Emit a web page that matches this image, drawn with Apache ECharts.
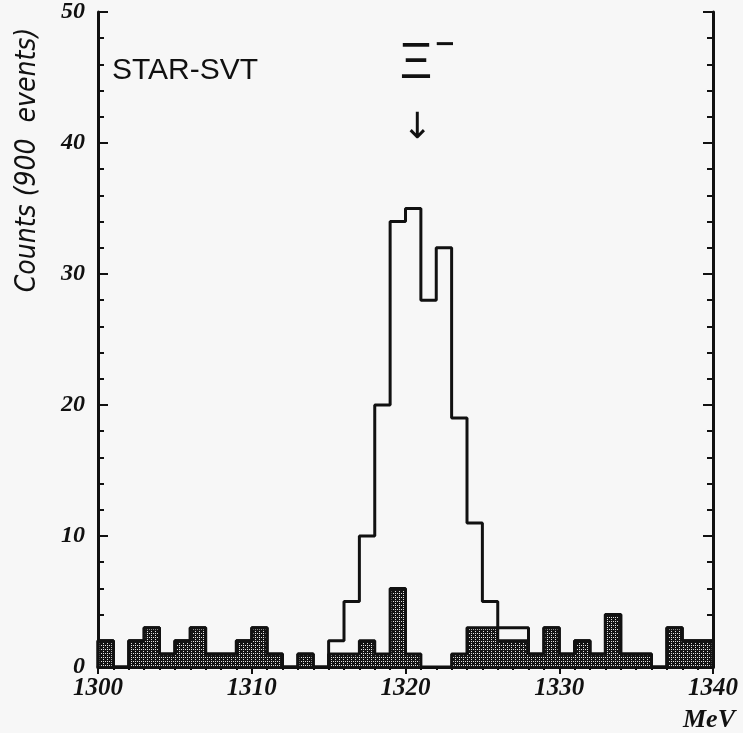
<!DOCTYPE html>
<html>
<head>
<meta charset="utf-8">
<script src="https://cdn.jsdelivr.net/npm/echarts@6/dist/echarts.min.js"></script>
<style>
  html, body { margin: 0; padding: 0; background: #f7f7f7; }
  #chart { width: 743px; height: 733px; }
</style>
</head>
<body>
<div id="chart"></div>
<script>
// Bin lower edges (MeV), 1 MeV bins
const binLow = [1300,1301,1302,1303,1304,1305,1306,1307,1308,1309,
                1310,1311,1312,1313,1314,1315,1316,1317,1318,1319,
                1320,1321,1322,1323,1324,1325,1326,1327,1328,1329,
                1330,1331,1332,1333,1334,1335,1336,1337,1338,1339];
const binWidth = 1;
// Background (shaded) counts per bin
const background = [2,0,2,3,1,2,3,1,1,2,
                    3,1,0,1,0,1,1,2,1,6,
                    1,0,0,1,3,3,2,2,1,3,
                    1,2,1,4,1,1,0,3,2,2];
// Total (outline) counts per bin
const total = [2,0,2,3,1,2,3,1,1,2,
               3,1,0,1,0,2,5,10,20,34,
               35,28,32,19,11,5,3,3,1,3,
               1,2,1,4,1,1,0,3,2,2];
const xTicks = [1300, 1310, 1320, 1330, 1340];
const yTicks = [0, 10, 20, 30, 40, 50];

function stepPoints(vals) {
  const pts = [[binLow[0], 0]];
  for (let i = 0; i < binLow.length; i++) pts.push([binLow[i], vals[i]]);
  const last = binLow[binLow.length - 1] + binWidth;
  pts.push([last, vals[vals.length - 1]]);
  pts.push([last, 0]);
  return pts;
}

function makePattern() {
  const c = document.createElement('canvas');
  c.width = 4; c.height = 4;
  const g = c.getContext('2d');
  g.fillStyle = '#141414';
  g.fillRect(0, 0, 4, 4);
  g.fillStyle = '#e0e0e0';
  g.fillRect(1, 1, 1, 1);
  g.fillRect(3, 3, 1, 1);
  g.fillRect(3, 1, 1, 1);
  return c;
}

const serifLbl = { fontFamily: 'Liberation Serif', fontWeight: 'bold', fontStyle: 'italic', color: '#111' };
const chart = echarts.init(document.getElementById('chart'), null, { renderer: 'canvas' });

const axisLineStyle = { color: '#111', width: 3 };
chart.setOption({
  backgroundColor: '#f7f7f7',
  animation: false,
  grid: { left: 98, right: 30, top: 12, bottom: 66 },
  xAxis: [
    {
      type: 'value', min: xTicks[0], max: xTicks[xTicks.length - 1], interval: 10,
      axisLine: { show: true, lineStyle: axisLineStyle },
      axisTick: { show: true, inside: true, length: 8, lineStyle: { color: '#111', width: 2 } },
      axisLabel: Object.assign({ fontSize: 25, margin: 9, formatter: v => String(v) }, serifLbl),
      splitLine: { show: false }
    },
    {
      type: 'value', position: 'top', min: xTicks[0], max: xTicks[xTicks.length - 1], interval: 10,
      axisLine: { show: true, lineStyle: axisLineStyle },
      axisTick: { show: true, inside: true, length: 7, lineStyle: { color: '#111', width: 2 } },
      minorTick: { show: true, splitNumber: 10, length: 3, lineStyle: { color: '#111', width: 2 } },
      axisLabel: { show: false },
      splitLine: { show: false }
    }
  ],
  yAxis: [
    {
      type: 'value', min: yTicks[0], max: yTicks[yTicks.length - 1], interval: 10,
      axisLine: { show: true, lineStyle: axisLineStyle },
      axisTick: { show: true, inside: true, length: 10, lineStyle: { color: '#111', width: 2 } },
      minorTick: { show: true, splitNumber: 5, length: 6, lineStyle: { color: '#111', width: 2 } },
      axisLabel: Object.assign({ fontSize: 24, margin: 13 }, serifLbl),
      splitLine: { show: false }
    },
    {
      type: 'value', position: 'right', min: yTicks[0], max: yTicks[yTicks.length - 1], interval: 10,
      axisLine: { show: true, lineStyle: axisLineStyle },
      axisTick: { show: true, inside: true, length: 10, lineStyle: { color: '#111', width: 2 } },
      minorTick: { show: true, splitNumber: 5, length: 6, lineStyle: { color: '#111', width: 2 } },
      axisLabel: { show: false },
      splitLine: { show: false }
    }
  ],
  series: [
    {
      name: 'background', type: 'line', step: 'end', symbol: 'none',
      data: stepPoints(background),
      lineStyle: { color: '#111', width: 3 },
      areaStyle: { color: { image: makePattern(), repeat: 'repeat' }, opacity: 1 },
      z: 2
    },
    {
      name: 'total', type: 'line', step: 'end', symbol: 'none',
      data: stepPoints(total),
      lineStyle: { color: '#111', width: 3 },
      z: 3
    }
  ],
  graphic: [
    { type: 'text', left: 112, top: 56,
      style: { text: 'STAR-SVT', font: '30px "Liberation Sans"', fill: '#111' } },
    { type: 'text', x: 416, y: 64,
      style: { text: 'Ξ', font: '50px "Liberation Sans"', fill: '#111', align: 'center', verticalAlign: 'middle' } },
    { type: 'text', x: 445, y: 45,
      style: { text: '−', font: 'bold 26px "DejaVu Sans"', fill: '#111', align: 'center', verticalAlign: 'middle' } },
    { type: 'text', x: 417, y: 129,
      style: { text: '↓', font: '36px "DejaVu Sans"', fill: '#111', align: 'center', verticalAlign: 'middle' } },
    { type: 'text', x: 28, y: 160, rotation: Math.PI / 2,
      style: { text: 'Counts (900  events)', font: 'italic 28px "DejaVu Sans Condensed", "DejaVu Sans"', fill: '#111', align: 'center', verticalAlign: 'middle' } },
    { type: 'text', left: 683, top: 707,
      style: { text: 'MeV', font: 'italic bold 26px "Liberation Serif"', fill: '#111' } }
  ]
});
</script>
</body>
</html>
